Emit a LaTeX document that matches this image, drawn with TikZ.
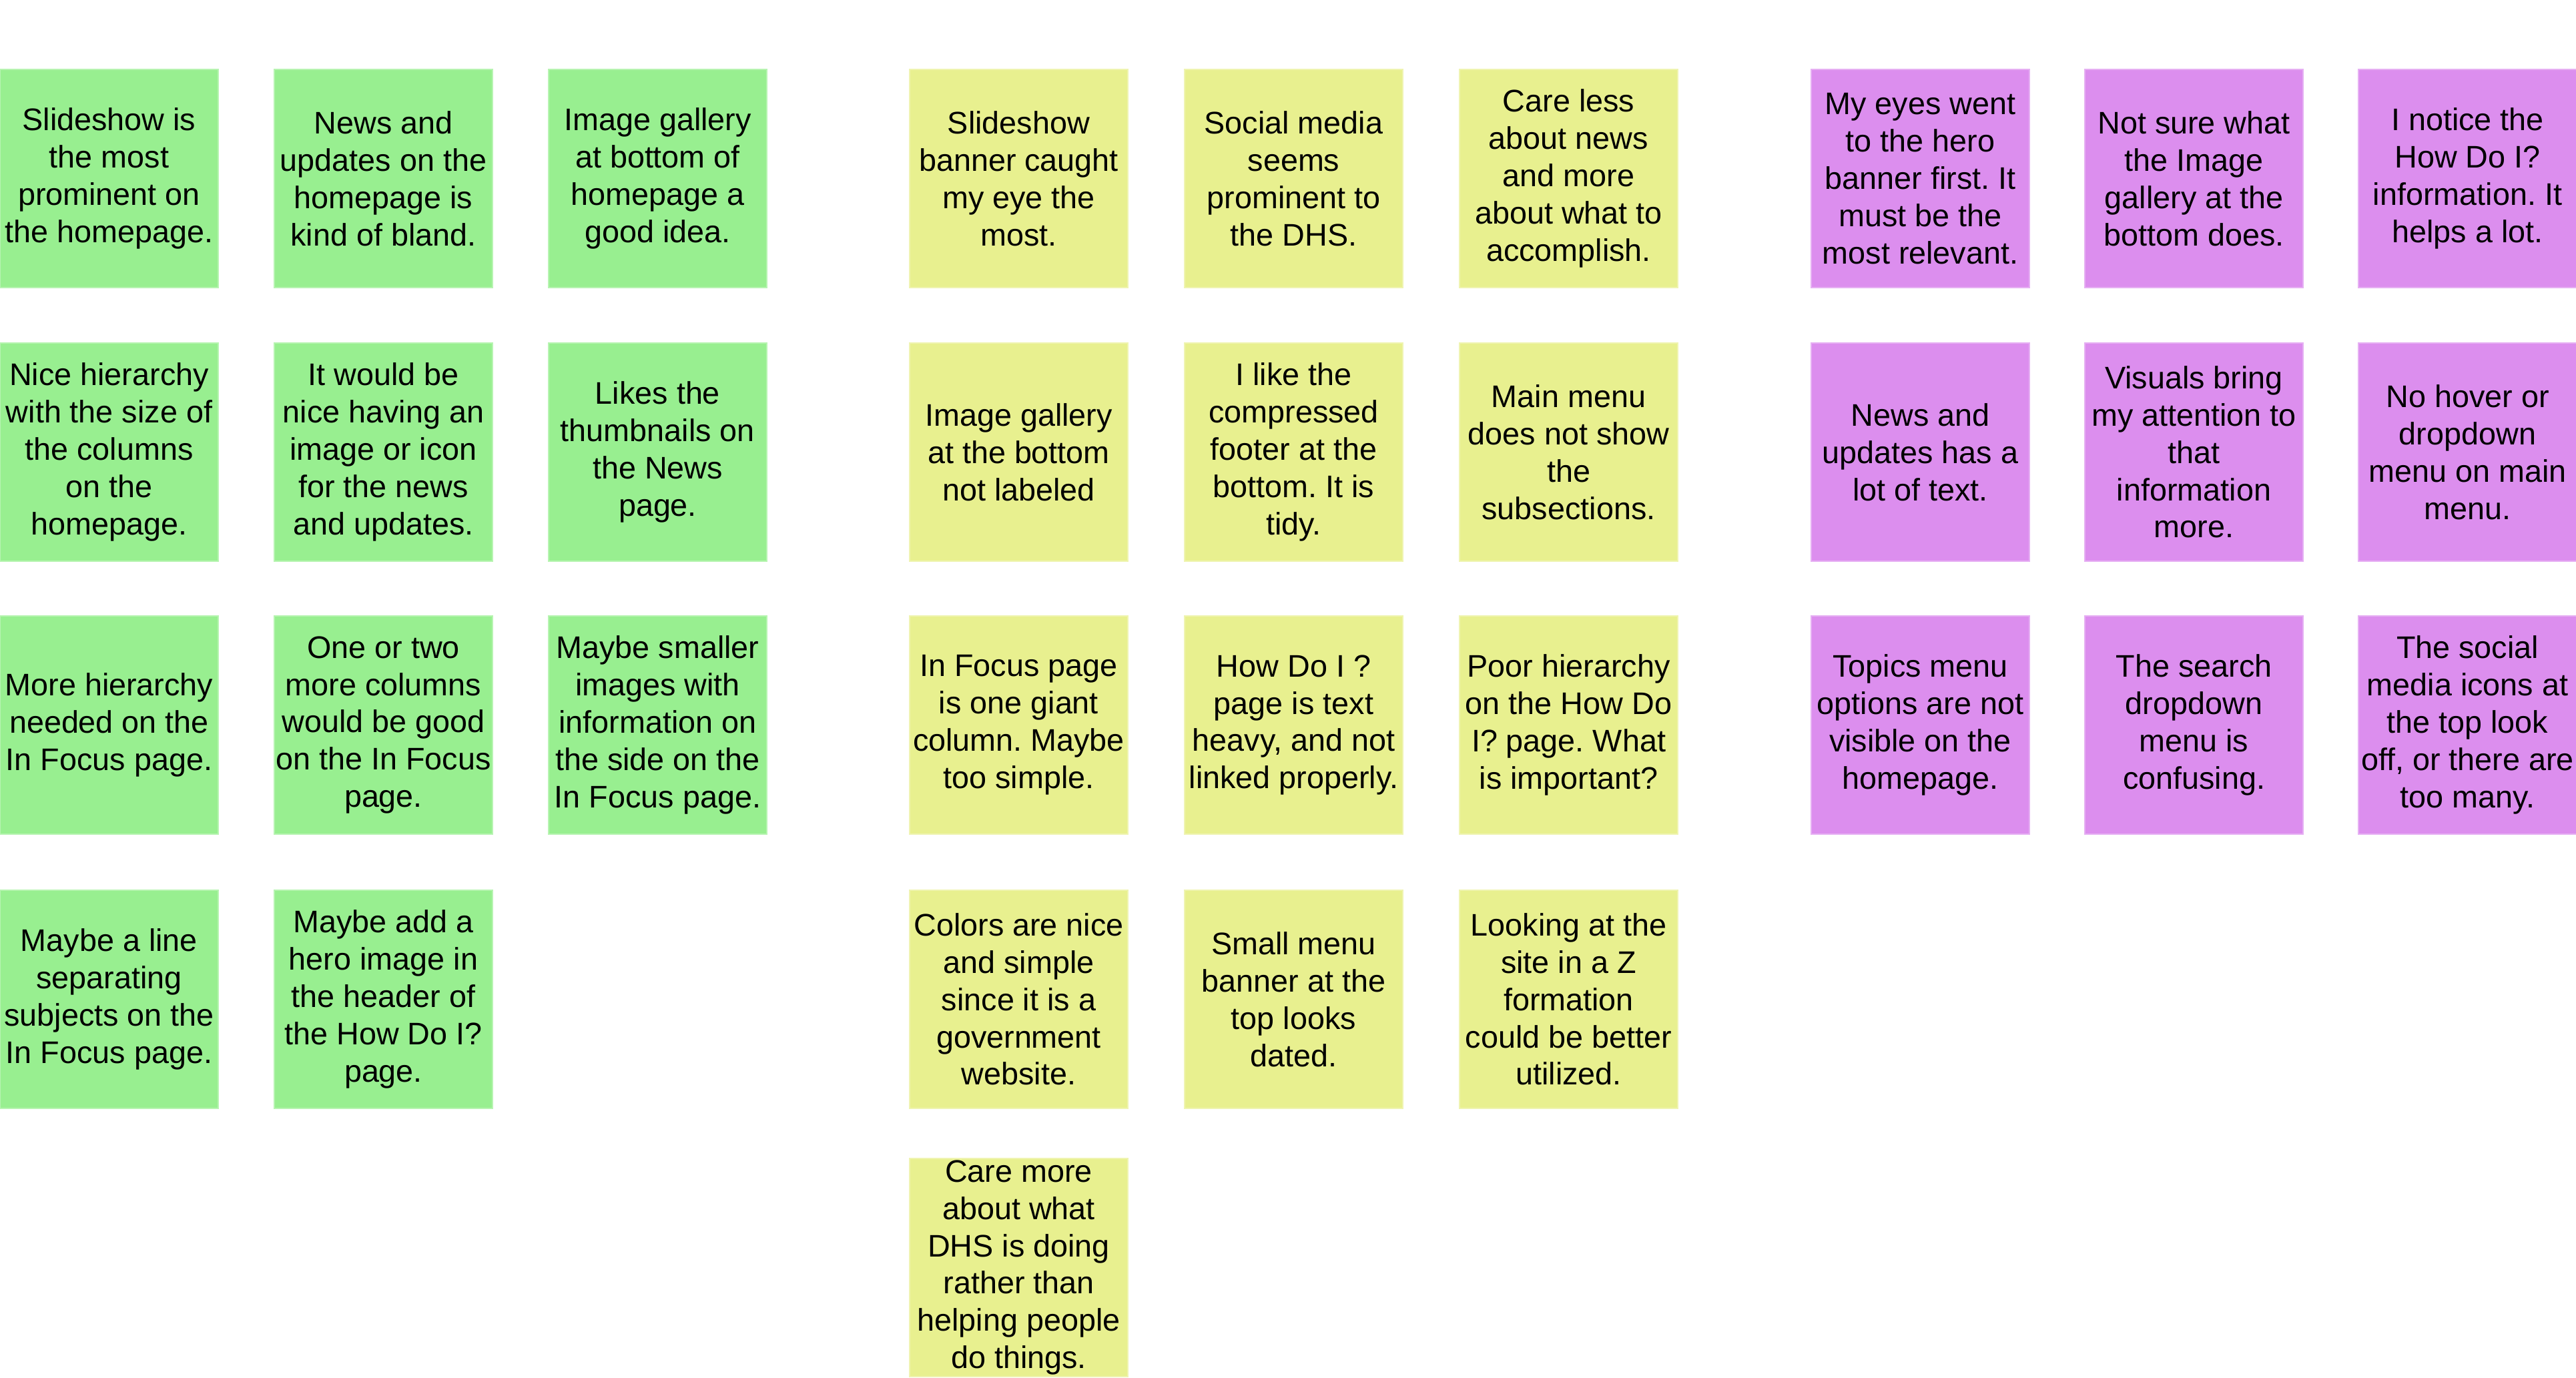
\documentclass[tikz,border=0pt]{standalone}
\usepackage{fontspec}
\setmainfont{Liberation Sans}
\usepackage{xcolor}
\usetikzlibrary{positioning}
\definecolor{notegreen}{HTML}{98EF90}
\definecolor{noteyellow}{HTML}{E8F08F}
\definecolor{notepurple}{HTML}{DC8EEE}
\frenchspacing
\tikzset{
  ux note/.style={rectangle, align=center, inner sep=0pt, outer sep=0pt, minimum width=3.27cm, minimum height=3.27cm, line width=0.6pt, font=\fontsize{13.3}{15.9}\selectfont},
  ux green/.style={ux note, fill=notegreen, draw=notegreen!70!white},
  ux yellow/.style={ux note, fill=noteyellow, draw=noteyellow!70!white},
  ux purple/.style={ux note, fill=notepurple, draw=notepurple!70!white}
}
\begin{document}
\begin{tikzpicture}[node distance=0.84cm]
    \useasboundingbox (0,0) rectangle (38.6,-20.64);

    % First row
    \node [ux green] (G11) at (1.635,-2.675) {Slideshow is\\the most\\prominent on\\the homepage.};
    \node [ux green, right=0.84cm of G11] (G12) {News and\\updates on the\\homepage is\\kind of bland.};
    \node [ux green, right=0.84cm of G12] (G13) {Image gallery\\at bottom of\\homepage a\\good idea.};
    \node [ux yellow, right=2.14cm of G13] (Y11) {Slideshow\\banner caught\\my eye the\\most.};
    \node [ux yellow, right=0.85cm of Y11] (Y12) {Social media\\seems\\prominent to\\the DHS.};
    \node [ux yellow, right=0.85cm of Y12] (Y13) {Care less\\about news\\and more\\about what to\\accomplish.};
    \node [ux purple, right=2.0cm of Y13] (P11) {My eyes went\\to the hero\\banner first. It\\must be the\\most relevant.};
    \node [ux purple, right=0.83cm of P11] (P12) {Not sure what\\the Image\\gallery at the\\bottom does.};
    \node [ux purple, right=0.83cm of P12] (P13) {I notice the\\How Do I?\\information. It\\helps a lot.};

    % Second row
    \node [ux green, below=0.83cm of G11] (G21) {Nice hierarchy\\with the size of\\the columns\\on the\\homepage.};
    \node [ux green, below=0.83cm of G12] (G22) {It would be\\nice having an\\image or icon\\for the news\\and updates.};
    \node [ux green, below=0.83cm of G13] (G23) {Likes the\\thumbnails on\\the News\\page.};
    \node [ux yellow, below=0.83cm of Y11] (Y21) {Image gallery\\at the bottom\\not labeled};
    \node [ux yellow, below=0.83cm of Y12] (Y22) {I like the\\compressed\\footer at the\\bottom. It is\\tidy.};
    \node [ux yellow, below=0.83cm of Y13] (Y23) {Main menu\\does not show\\the\\subsections.};
    \node [ux purple, below=0.83cm of P11] (P21) {News and\\updates has a\\lot of text.};
    \node [ux purple, below=0.83cm of P12] (P22) {Visuals bring\\my attention to\\that\\information\\more.};
    \node [ux purple, below=0.83cm of P13] (P23) {No hover or\\dropdown\\menu on main\\menu.};

    % Third row
    \node [ux green, below=0.82cm of G21] (G31) {More hierarchy\\needed on the\\In Focus page.};
    \node [ux green, below=0.82cm of G22] (G32) {One or two\\more columns\\would be good\\on the In Focus\\page.};
    \node [ux green, below=0.82cm of G23] (G33) {Maybe smaller\\images with\\information on\\the side on the\\In Focus page.};
    \node [ux yellow, below=0.82cm of Y21] (Y31) {In Focus page\\is one giant\\column. Maybe\\too simple.};
    \node [ux yellow, below=0.82cm of Y22] (Y32) {How Do I ?\\page is text\\heavy, and not\\linked properly.};
    \node [ux yellow, below=0.82cm of Y23] (Y33) {Poor hierarchy\\on the How Do\\I? page. What\\is important?};
    \node [ux purple, below=0.82cm of P21] (P31) {Topics menu\\options are not\\visible on the\\homepage.};
    \node [ux purple, below=0.82cm of P22] (P32) {The search\\dropdown\\menu is\\confusing.};
    \node [ux purple, below=0.82cm of P23] (P33) {The social\\media icons at\\the top look\\off, or there are\\too many.};

    % Fourth row
    \node [ux green, below=0.84cm of G31] (G41) {Maybe a line\\separating\\subjects on the\\In Focus page.};
    \node [ux green, below=0.84cm of G32] (G42) {Maybe add a\\hero image in\\the header of\\the How Do I?\\page.};
    \node [ux yellow, below=0.84cm of Y31] (Y41) {Colors are nice\\and simple\\since it is a\\government\\website.};
    \node [ux yellow, below=0.84cm of Y32] (Y42) {Small menu\\banner at the\\top looks\\dated.};
    \node [ux yellow, below=0.84cm of Y33] (Y43) {Looking at the\\site in a Z\\formation\\could be better\\utilized.};

    % Fifth row
    \node [ux yellow, below=0.75cm of Y41] (Y51) {Care more\\about what\\DHS is doing\\rather than\\helping people\\do things.};
\end{tikzpicture}
\end{document}
